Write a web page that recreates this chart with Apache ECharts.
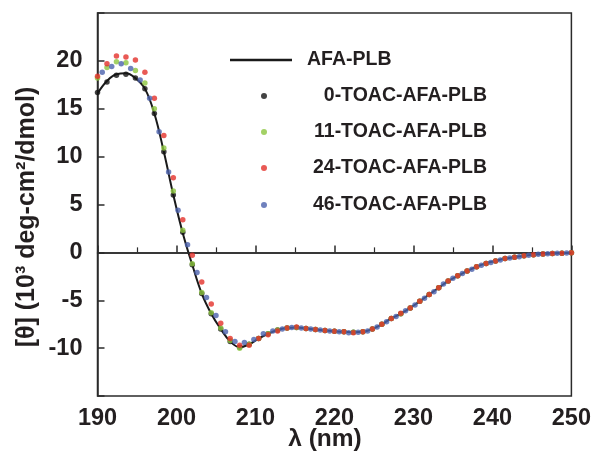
<!DOCTYPE html>
<html><head><meta charset="utf-8">
<script src="https://cdn.jsdelivr.net/npm/echarts@6/dist/echarts.min.js"></script>
<style>html,body{margin:0;padding:0;background:#fff}#c{width:594px;height:453px}</style>
</head><body><div id="c"></div>
<script>
// wavelengths (nm) for AFA-PLB line, 0-, 11-, 24-TOAC series
const wlA = [190.0,191.2,192.4,193.6,194.8,196.0,197.2,198.4,199.6,200.8,202.0,203.2,204.4,205.6,206.8,208.0,209.2,210.4,211.6,212.8,214.0,215.2,216.4,217.6,218.8,220.0,221.2,222.4,223.6,224.8,226.0,227.2,228.4,229.6,230.8,232.0,233.2,234.4,235.6,236.8,238.0,239.2,240.4,241.6,242.8,244.0,245.2,246.4,247.6,248.8,250.0];
// wavelengths (nm) for 46-TOAC series
const wlB = [190.6,191.8,193.0,194.2,195.4,196.6,197.8,199.0,200.2,201.4,202.6,203.8,205.0,206.2,207.4,208.6,209.8,211.0,212.2,213.4,214.6,215.8,217.0,218.2,219.4,220.6,221.8,223.0,224.2,225.4,226.6,227.8,229.0,230.2,231.4,232.6,233.8,235.0,236.2,237.4,238.6,239.8,241.0,242.2,243.4,244.6,245.8,247.0,248.2,249.4];

const afaPLB = [16.6,17.9,18.6,18.7,18.2,17.1,14.5,10.5,6.0,2.0,-1.3,-4.3,-6.4,-8.0,-9.3,-9.9,-9.6,-9.0,-8.5,-8.1,-7.9,-7.85,-7.95,-8.05,-8.15,-8.25,-8.3,-8.35,-8.3,-8.0,-7.5,-6.9,-6.4,-5.8,-5.1,-4.4,-3.7,-3.0,-2.45,-1.95,-1.5,-1.15,-0.9,-0.65,-0.5,-0.35,-0.25,-0.18,-0.12,-0.08,-0.05];
const toac0 = [16.7,17.8,18.5,18.6,18.2,17.1,14.5,10.5,6.0,2.1,-1.3,-4.3,-6.4,-8.0,-9.3,-9.9,-9.6,-9.0,-8.5,-8.1,-7.9,-7.85,-7.95,-8.05,-8.15,-8.25,-8.3,-8.35,-8.3,-8.0,-7.5,-6.9,-6.4,-5.8,-5.1,-4.4,-3.7,-3.0,-2.45,-1.95,-1.5,-1.15,-0.9,-0.65,-0.5,-0.35,-0.25,-0.18,-0.12,-0.08,-0.05];
const toac11 = [18.2,19.3,19.9,19.8,19.0,17.7,15.0,10.9,6.4,2.3,-1.2,-4.2,-6.3,-7.9,-9.2,-10.0,-9.6,-9.0,-8.5,-8.1,-7.9,-7.85,-7.95,-8.05,-8.15,-8.25,-8.3,-8.35,-8.3,-8.0,-7.5,-6.9,-6.4,-5.8,-5.1,-4.4,-3.7,-3.0,-2.45,-1.95,-1.5,-1.15,-0.9,-0.65,-0.5,-0.35,-0.25,-0.18,-0.12,-0.08,-0.05];
const toac24 = [18.4,19.7,20.5,20.4,20.1,18.8,16.1,12.2,7.8,3.4,-0.3,-3.1,-5.4,-7.4,-9.0,-9.7,-9.7,-9.0,-8.6,-8.2,-7.9,-7.8,-7.95,-8.05,-8.15,-8.25,-8.3,-8.4,-8.3,-8.0,-7.5,-6.9,-6.35,-5.8,-5.1,-4.4,-3.7,-3.0,-2.45,-1.95,-1.5,-1.15,-0.9,-0.65,-0.5,-0.35,-0.25,-0.18,-0.12,-0.08,-0.05];
const toac46 = [18.8,19.4,19.7,19.2,18.0,16.1,12.6,8.4,4.4,0.8,-2.1,-4.7,-6.6,-8.3,-9.3,-9.4,-9.1,-8.5,-8.2,-8.0,-7.85,-7.9,-8.0,-8.1,-8.2,-8.3,-8.4,-8.35,-8.2,-7.8,-7.25,-6.7,-6.1,-5.5,-4.8,-4.1,-3.3,-2.7,-2.2,-1.75,-1.35,-1.05,-0.8,-0.6,-0.45,-0.3,-0.2,-0.15,-0.1,-0.07];

const names = ['AFA-PLB','0-TOAC-AFA-PLB','11-TOAC-AFA-PLB','24-TOAC-AFA-PLB','46-TOAC-AFA-PLB'];
const xTicks = [190,200,210,220,230,240,250];
const yTicks = [-10,-5,0,5,10,15,20];

const pair = (xs, ys) => xs.map((x, i) => [x, ys[i]]);
const FONT = 'Liberation Sans, Arial, sans-serif';
const TXT = '#231f20';
const colors = ['#1a1a1a','#141414','#8cc63e','#e3312a','#4b62ad'];

const chart = echarts.init(document.getElementById('c'), null, {renderer:'canvas'});
const legRows = [60, 96, 132, 168, 205];
const legends = names.map((n, i) => {
  if (i === 0) {
    return {data:[{name:n, icon:'rect'}], left:230, top:legRows[0]-11, padding:0, itemWidth:62, itemHeight:2.5, itemGap:0,
      formatter:'{a|' + n + '}',
      textStyle:{fontFamily:FONT, fontWeight:'bold', fontSize:19.5, color:TXT, lineHeight:22,
        rich:{a:{fontFamily:FONT, fontWeight:'bold', fontSize:19.5, color:TXT, lineHeight:22, padding:[0,0,0,10]}}},
      selectedMode:false};
  }
  return {data:[{name:n, icon:'circle'}], left:261, top:legRows[i]-11, padding:0, itemWidth:6, itemHeight:6, itemGap:0,
    formatter: '{a|' + n + '}',
    textStyle:{fontFamily:FONT, fontWeight:'bold', fontSize:19.5, color:TXT, lineHeight:22,
      rich:{a:{fontFamily:FONT, fontWeight:'bold', fontSize:19.5, color:TXT, width:215, align:'right', lineHeight:22}}},
    selectedMode:false};
});

const dotSeries = (name, xs, ys, color, z) => ({
  name, type:'scatter', data:pair(xs, ys), symbol:'circle', symbolSize:5.5,
  itemStyle:{color}, z, silent:true
});

chart.setOption({
  animation:false,
  backgroundColor:'#fff',
  grid:{left:97.5, right:12, top:13, bottom:57, show:true, borderColor:'#2b2b2b', borderWidth:1.5},
  legend: legends,
  xAxis:{type:'value', min:190, max:250, interval:10,
    axisLine:{show:true, lineStyle:{color:'#2b2b2b', width:1.5}},
    axisTick:{show:true, inside:true, length:7, lineStyle:{color:'#2b2b2b', width:1.5}},
    minorTick:{show:true, splitNumber:2, length:5, lineStyle:{color:'#2b2b2b', width:1.2}},
    splitLine:{show:false},
    axisLabel:{margin:11, fontFamily:FONT, fontWeight:'bold', fontSize:23.5, color:TXT,
      formatter:v => xTicks.includes(v) ? String(v) : ''}},
  yAxis:{type:'value', min:-15, max:25, interval:5,
    axisLine:{show:true, lineStyle:{color:'#2b2b2b', width:1.5}},
    axisTick:{show:true, inside:true, length:7, lineStyle:{color:'#2b2b2b', width:1.5}},
    splitLine:{show:false},
    axisLabel:{margin:15, fontFamily:FONT, fontWeight:'bold', fontSize:23.5, color:TXT,
      formatter:v => yTicks.includes(v) ? String(v) : ''}},
  graphic:[
    {type:'text', x:325, y:427, style:{text:'λ (nm)', font:'bold 24.5px ' + FONT, fill:TXT, align:'center', verticalAlign:'top'}},
    {type:'text', x:15, y:217, rotation:Math.PI/2, originX:0, originY:0,
      style:{text:'[θ] (10³ deg-cm²/dmol)', font:'bold 25px ' + FONT, fill:TXT, align:'center', verticalAlign:'top'}}
  ],
  series:[
    {name:names[0], type:'line', data:pair(wlA, afaPLB), smooth:0.4, symbol:'none', showSymbol:false,
      lineStyle:{color:colors[0], width:2}, itemStyle:{color:colors[0]}, z:2, silent:true,
      markLine:{silent:true, symbol:'none', label:{show:false}, lineStyle:{color:'#2b2b2b', width:1.5, type:'solid'},
        data:[{yAxis:0}]}},
    dotSeries(names[1], wlA, toac0, colors[1], 3),
    dotSeries(names[2], wlA, toac11, colors[2], 4),
    dotSeries(names[3], wlA, toac24, colors[3], 5),
    dotSeries(names[4], wlB, toac46, colors[4], 6)
  ]
});
</script></body></html>
